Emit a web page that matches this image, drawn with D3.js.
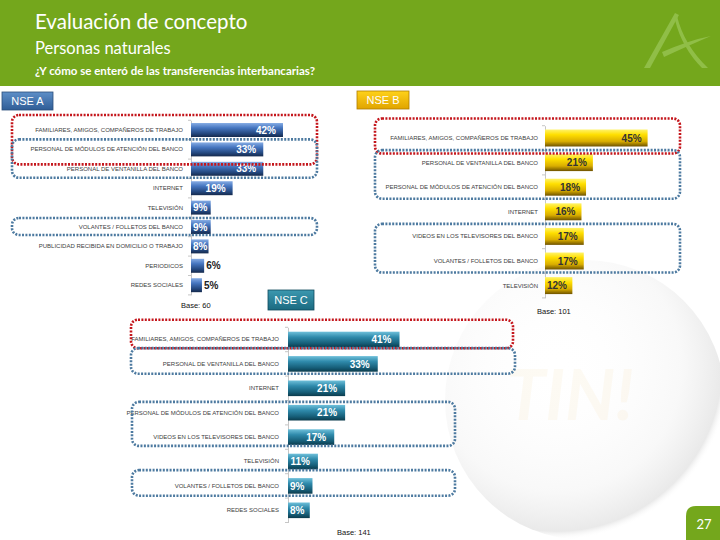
<!DOCTYPE html>
<html>
<head>
<meta charset="utf-8">
<script src="https://cdn.jsdelivr.net/npm/d3@7"></script>
<style>
html,body{margin:0;padding:0;background:#fff;}
svg{display:block;}
</style>
</head>
<body>
<svg id="chart" width="720" height="540"></svg>
<script>
// ---------- DATA ----------
const catsA = ["FAMILIARES, AMIGOS, COMPAÑEROS DE TRABAJO","PERSONAL DE MÓDULOS DE ATENCIÓN DEL BANCO","PERSONAL DE VENTANILLA DEL BANCO","INTERNET","TELEVISIÓN","VOLANTES / FOLLETOS DEL BANCO","PUBLICIDAD RECIBIDA EN DOMICILIO O TRABAJO","PERIODICOS","REDES SOCIALES"];
const valsA = [42,33,33,19,9,9,8,6,5];
const catsB = ["FAMILIARES, AMIGOS, COMPAÑEROS DE TRABAJO","PERSONAL DE VENTANILLA DEL BANCO","PERSONAL DE MÓDULOS DE ATENCIÓN DEL BANCO","INTERNET","VIDEOS EN LOS TELEVISORES DEL BANCO","VOLANTES / FOLLETOS DEL BANCO","TELEVISIÓN"];
const valsB = [45,21,18,16,17,17,12];
const catsC = ["FAMILIARES, AMIGOS, COMPAÑEROS DE TRABAJO","PERSONAL DE VENTANILLA DEL BANCO","INTERNET","PERSONAL DE MÓDULOS DE ATENCIÓN DEL BANCO","VIDEOS EN LOS TELEVISORES DEL BANCO","TELEVISIÓN","VOLANTES / FOLLETOS DEL BANCO","REDES SOCIALES"];
const valsC = [41,33,21,21,17,11,9,8];
const panelNames = ["NSE A","NSE B","NSE C"];
const baseLabels = ["Base: 60","Base: 101","Base: 141"];
const titleText = "Evaluación de concepto";
const subtitleText = "Personas naturales";
const questionText = "¿Y cómo se enteró de las transferencias interbancarias?";
const pageNumber = "27";

// ---------- SETUP ----------
const svg = d3.select("#chart");
const defs = svg.append("defs");

function grad(id, stops){
  const g = defs.append("linearGradient").attr("id", id).attr("x1",0).attr("y1",0).attr("x2",0).attr("y2",1);
  stops.forEach(s => g.append("stop").attr("offset", s[0]).attr("stop-color", s[1]));
}
grad("gBlue", [[0,"#86ace4"],[0.35,"#4676c0"],[0.75,"#24487f"],[1,"#15294c"]]);
grad("gGold", [[0,"#fff36a"],[0.3,"#ffdf00"],[0.7,"#d9ad00"],[1,"#6e5200"]]);
grad("gTeal", [[0,"#6fc0da"],[0.35,"#2f8aab"],[0.75,"#165e78"],[1,"#0b3b4c"]]);
grad("gBoxBlue", [[0,"#5e8fc8"],[1,"#2f5d96"]]);
grad("gBoxGold", [[0,"#ffd21a"],[1,"#e0a400"]]);
grad("gBoxTeal", [[0,"#3c98b0"],[1,"#1b6a80"]]);
const rg = defs.append("radialGradient").attr("id","gGlobe").attr("cx","0.4").attr("cy","0.38").attr("r","0.62");
rg.append("stop").attr("offset",0).attr("stop-color","#ffffff").attr("stop-opacity",0);
rg.append("stop").attr("offset",0.72).attr("stop-color","#f4f4f4").attr("stop-opacity",0.6);
rg.append("stop").attr("offset",0.95).attr("stop-color","#e4e4e4").attr("stop-opacity",0.8);
rg.append("stop").attr("offset",1).attr("stop-color","#ffffff").attr("stop-opacity",0);

// watermark globe
svg.append("circle").attr("cx",585).attr("cy",400).attr("r",140).attr("fill","url(#gGlobe)");
svg.append("text").attr("x",570).attr("y",420).attr("text-anchor","middle")
  .attr("font-family","Lato, sans-serif").attr("font-weight","bold").attr("font-style","italic")
  .attr("font-size",70).attr("fill","#f5d9a0").attr("opacity",0.12).text("TIN!");

// ---------- HEADER ----------
svg.append("rect").attr("x",0).attr("y",0).attr("width",720).attr("height",86).attr("fill","#74a71c");
const logo = svg.append("g").attr("fill","#9cc85a").attr("opacity",0.7);
logo.append("path").attr("d","M644,68 L675,13 L679,15 L650,68 Z");
logo.append("path").attr("d","M677,16 Q684,45 708,68 L702,68 Q682,48 675,20 Z");
logo.append("path").attr("d","M662,52 Q690,40 711,36 Q692,44 664,57 Z");
svg.append("text").attr("x",35).attr("y",29).attr("font-family","Lato, sans-serif").attr("font-size",20.5).attr("fill","#fff").text(titleText);
svg.append("text").attr("x",35).attr("y",54).attr("font-family","Lato, sans-serif").attr("font-size",16.5).attr("fill","#fff").text(subtitleText);
svg.append("text").attr("x",35).attr("y",75).attr("font-family","Lato, sans-serif").attr("font-weight","bold").attr("font-size",11.5).attr("fill","#fff").text(questionText);

// ---------- PANELS ----------
function panel(opt){
  const g = svg.append("g");
  const x = d3.scaleLinear().domain([0,50]).range([opt.x0, opt.x0 + opt.pxPer*50]);
  const n = opt.cats.length;
  const y = d3.scaleBand().domain(opt.cats).range([opt.yFirst - opt.step/2, opt.yFirst - opt.step/2 + opt.step*n])
    .paddingInner(opt.pad).paddingOuter(opt.pad/2);

  const ax = d3.axisLeft(y).tickSize(0).tickPadding(opt.x0 - opt.labelRight);
  const axg = g.append("g").attr("transform",`translate(${opt.x0},0)`).call(ax);
  axg.select(".domain").attr("stroke","#b8b8b8").attr("stroke-width",0.8);
  axg.selectAll("text").attr("font-family","Liberation Sans, Arial, sans-serif").attr("font-size",6).attr("fill","#404040");
  const bounds = d3.range(n+1).map(i => y.range()[0] + i*y.step());
  g.selectAll("line.bt").data(bounds).enter().append("line")
    .attr("x1",opt.x0-3).attr("x2",opt.x0).attr("y1",d=>d).attr("y2",d=>d)
    .attr("stroke","#b8b8b8").attr("stroke-width",0.8);

  const data = opt.cats.map((c,i)=>({c, v: opt.vals[i]}));
  g.selectAll("rect.bar").data(data).enter().append("rect")
    .attr("x", x(0)).attr("y", d=>y(d.c)).attr("width", d=>x(d.v)-x(0)).attr("height", y.bandwidth())
    .attr("fill", `url(#${opt.fill})`);

  const lbl = g.selectAll("text.val").data(data).enter().append("text")
    .attr("y", d=>y(d.c)+y.bandwidth()/2).attr("dy","0.36em")
    .attr("font-family","Liberation Sans, Arial, sans-serif").attr("font-weight","bold")
    .attr("font-size",opt.fs).text(d=>d.v+"%");
  lbl.each(function(d){
    const t = d3.select(this);
    const tw = this.getComputedTextLength();
    const bw = x(d.v)-x(0);
    if (bw >= tw + 3) {
      const xr = Math.max(x(d.v) - opt.endPad, x(0) + 2 + tw);
      t.attr("x", xr).attr("text-anchor","end").attr("fill", opt.inColor);
    } else {
      t.attr("x", x(d.v)+2).attr("text-anchor","start").attr("fill","#222");
    }
  });

  const nb = svg.append("g");
  nb.append("rect").attr("x",opt.nb[0]).attr("y",opt.nb[1]).attr("width",opt.nb[2]).attr("height",opt.nb[3])
    .attr("fill",`url(#${opt.nbFill})`).attr("stroke",opt.nbStroke).attr("stroke-width",0.8);
  nb.append("text").attr("x",opt.nb[0]+opt.nb[2]/2).attr("y",opt.nb[1]+opt.nb[3]/2).attr("dy","0.36em")
    .attr("text-anchor","middle").attr("font-family","Liberation Sans, Arial, sans-serif").attr("font-size",11)
    .attr("fill","#fff").text(opt.name);

  svg.append("text").attr("x",opt.base[0]).attr("y",opt.base[1]).attr("font-family","Liberation Sans, Arial, sans-serif")
    .attr("font-size",7.5).attr("fill","#111").text(opt.baseText);

  opt.boxes.forEach(b => {
    const top = y(opt.cats[b.from]) - b.pt;
    const bot = y(opt.cats[b.to]) + y.bandwidth() + b.pb;
    svg.append("rect").attr("x",b.x).attr("y",top).attr("width",b.w).attr("height",bot-top)
      .attr("rx",7).attr("ry",7).attr("fill","none")
      .attr("stroke", b.red ? "#c4161c" : "#4d7aa0").attr("stroke-width",2.6)
      .attr("stroke-dasharray","2,1.4");
  });
}

panel({cats:catsA, vals:valsA, x0:191, pxPer:2.19, yFirst:130, step:19.4, pad:0.28, labelRight:183,
  fill:"gBlue", fs:10, inColor:"#fff", endPad:7, name:panelNames[0], nb:[2,92,51,18], nbFill:"gBoxBlue", nbStroke:"#2c4f7c",
  base:[181,308], baseText:baseLabels[0],
  boxes:[{from:0,to:1,pt:8,pb:8,x:12,w:305,red:true},{from:1,to:2,pt:3,pb:2,x:12,w:305},{from:5,to:5,pt:2,pb:1,x:12,w:305}]});

panel({cats:catsB, vals:valsB, x0:545, pxPer:2.28, yFirst:138, step:24.6, pad:0.31, labelRight:538,
  fill:"gGold", fs:10, inColor:"#333", endPad:6, name:panelNames[1], nb:[357,91,52,18], nbFill:"gBoxGold", nbStroke:"#b07d00",
  base:[537,314], baseText:baseLabels[1],
  boxes:[{from:0,to:0,pt:11,pb:7,x:375,w:305,red:true},{from:1,to:2,pt:4,pb:3,x:375,w:305},{from:4,to:5,pt:4,pb:3,x:375,w:305}]});

panel({cats:catsC, vals:valsC, x0:288, pxPer:2.72, yFirst:339.5, step:24.4, pad:0.36, labelRight:279,
  fill:"gTeal", fs:10, inColor:"#fff", endPad:8, name:panelNames[2], nb:[268,290,46,20], nbFill:"gBoxTeal", nbStroke:"#0f4a5c",
  base:[337,535], baseText:baseLabels[2],
  boxes:[{from:0,to:0,pt:12,pb:1,x:131,w:382,red:true},{from:1,to:1,pt:8,pb:2,x:131,w:384},{from:3,to:4,pt:3,pb:1,x:132,w:323},{from:6,to:6,pt:8,pb:2,x:132,w:323}]});

// ---------- PAGE NUMBER ----------
svg.append("path").attr("d","M686,540 L686,516 Q686,506 696,506 L720,506 L720,540 Z").attr("fill","#74a71c");
svg.append("text").attr("x",704).attr("y",524).attr("dy","0.36em").attr("text-anchor","middle")
  .attr("font-family","Lato, sans-serif").attr("font-size",13).attr("fill","#fff").text(pageNumber);
</script>
</body>
</html>
